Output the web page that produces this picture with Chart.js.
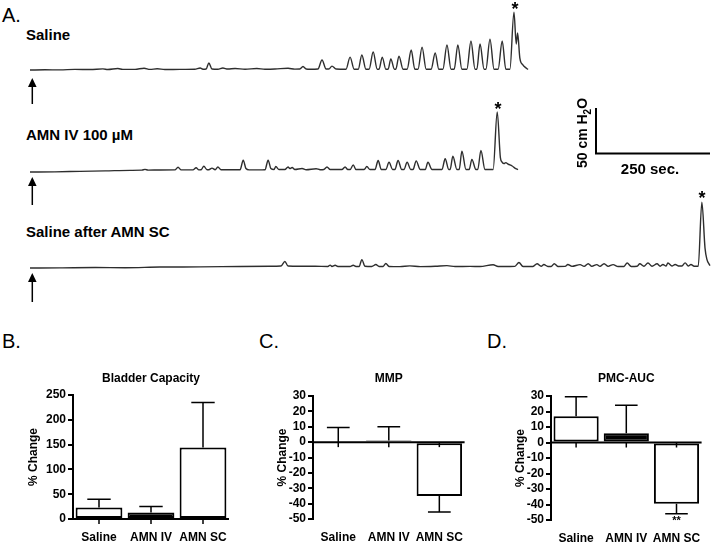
<!DOCTYPE html>
<html>
<head>
<meta charset="utf-8">
<script src="https://cdn.jsdelivr.net/npm/chart.js@4.4.1/dist/chart.umd.min.js"></script>
<style>
  body { margin: 0; background: #fff; }
  #fig { position: relative; width: 712px; height: 544px; overflow: hidden; font-family: 'Liberation Sans', Arial, sans-serif; color: #000; }
  #fig canvas, #fig svg { position: absolute; }
  .t { position: absolute; line-height: 1; white-space: nowrap; }
  .lbl { font-weight: bold; font-size: 15px; }
  .panel { font-size: 20px; }
  .star { font-weight: bold; font-size: 18px; width: 20px; text-align: center; }
</style>
</head>
<body>
<div id="fig">
  <div class="t panel" style="left:2px;top:5px">A.</div>
  <div class="t lbl" style="left:26px;top:27px">Saline</div>
  <div class="t lbl" style="left:26px;top:127px">AMN IV 100 µM</div>
  <div class="t lbl" style="left:26px;top:224px">Saline after AMN SC</div>

  <canvas id="traceSaline" width="712" height="72" style="left:0;top:3px"></canvas>
  <canvas id="traceIV" width="712" height="72" style="left:0;top:105px"></canvas>
  <canvas id="traceSC" width="712" height="72" style="left:0;top:201px"></canvas>

  <div class="t star" style="left:505px;top:0px">*</div>
  <div class="t star" style="left:488px;top:100px">*</div>
  <div class="t star" style="left:692px;top:189px">*</div>

  <svg width="712" height="320" style="left:0;top:0">
    <g fill="#000" stroke="#000">
      <polygon points="32.3,78 28,87 36.6,87" stroke="none"/>
      <line x1="32.3" y1="86" x2="32.3" y2="104" stroke-width="1.5"/>
      <polygon points="32.3,177 28,186 36.6,186" stroke="none"/>
      <line x1="32.3" y1="185" x2="32.3" y2="205" stroke-width="1.5"/>
      <polygon points="32.3,273 28,282 36.6,282" stroke="none"/>
      <line x1="32.3" y1="281" x2="32.3" y2="302" stroke-width="1.5"/>
      <polyline points="596,108 596,153.5 710,153.5" fill="none" stroke-width="2"/>
    </g>
  </svg>
  <div class="t" style="left:584px;top:133px;font-weight:bold;font-size:14px;transform:translate(-50%,-50%) rotate(-90deg)">50 cm H<sub style="font-size:10px">2</sub>O</div>
  <div class="t lbl" style="left:650px;top:161px;transform:translateX(-50%)">250 sec.</div>

  <div class="t panel" style="left:2px;top:331px">B.</div>
  <div class="t panel" style="left:259px;top:331px">C.</div>
  <div class="t panel" style="left:487px;top:331px">D.</div>

  <canvas id="capacityChart" width="240" height="184" style="left:0;top:360px"></canvas>
  <canvas id="mmpChart" width="240" height="184" style="left:235px;top:360px"></canvas>
  <canvas id="aucChart" width="242" height="184" style="left:470px;top:360px"></canvas>
</div>

<script>
// cystometry traces: time (s) and pressure above baseline (cm H2O)
const traceSalineTime = [0,33,66,99,133,161,172,194,205,232,252,265,281,298,331,364,376,382,389,395,402,415,426,437,453,475,501,519,541,570,585,596,603,610,619,636,645,654,660,667,676,698,707,716,725,733,742,749,758,767,771,778,786,791,797,805,808,815,824,833,842,850,857,866,875,886,895,903,912,921,930,937,945,954,965,974,983,987,994,1003,1007,1016,1025,1034,1043,1051,1060,1069,1074,1077,1082,1089,1096,1100];
const traceSalinePressure = [0,0.3,0.2,0.7,0.6,1.3,0.6,1.7,0.7,0.8,2.0,0.7,1.4,0.6,0.7,0.9,2.2,0.9,1.1,7.8,1.1,0.9,2.2,1.1,1.8,0.9,1.8,0.9,1.1,2.0,1.0,1.1,3.9,1.1,0.9,1.1,11.1,1.1,1.1,4.4,1.1,0.9,14.4,0.9,0.9,16.7,0.9,0.9,20.0,0.9,0.9,14.4,0.9,0.9,12.2,0.9,0.9,15.5,0.9,0.9,22.2,0.9,0.9,25.5,0.9,0.9,18.9,0.9,0.9,27.8,0.9,0.9,27.8,0.9,0.9,32.2,0.9,0.9,28.9,0.9,0.9,34.4,0.9,0.9,32.2,0.9,0.9,64.4,28.9,41.1,13.3,5.6,2.2,0.6];

const traceIVTime = [0,55,110,166,221,247,254,261,287,320,327,334,360,367,373,378,384,391,395,402,409,415,422,446,464,471,477,484,504,519,526,532,539,543,550,563,570,574,579,585,601,610,632,641,649,656,663,689,696,702,707,714,720,738,744,751,762,769,776,786,793,801,806,813,821,826,833,841,846,853,862,873,879,888,910,917,925,928,934,943,948,954,963,970,976,985,989,996,1005,1023,1032,1039,1043,1047,1051,1056,1065,1071,1078];
const traceIVPressure = [0,0.2,0.8,1.3,1.9,2.1,3.0,2.1,2.3,2.4,5.3,2.4,2.4,4.7,2.4,2.6,6.4,2.6,2.6,4.4,2.6,5.6,2.6,2.6,2.6,13.1,3.9,2.4,2.4,2.6,13.1,3.9,2.8,6.1,2.8,2.8,5.6,3.9,5.0,2.8,3.9,2.6,3.7,2.6,2.8,5.6,2.8,2.8,5.6,2.8,2.8,8.0,2.8,2.8,6.1,2.8,2.8,12.8,2.8,2.8,10.9,2.8,2.8,12.8,2.8,2.8,10.9,2.8,2.8,12.4,2.8,2.8,10.9,2.8,2.8,14.7,2.8,2.8,17.5,2.8,2.8,23.1,2.8,2.8,13.9,2.8,2.8,23.9,2.8,2.8,66.8,16.1,10.9,9.4,10.5,8.9,6.7,4.4,2.8];

const traceSCTime = [0,66,144,210,287,376,464,530,554,563,570,596,630,658,663,667,674,680,707,714,720,727,733,740,755,764,771,780,786,793,817,839,862,895,921,939,972,994,1023,1034,1060,1071,1080,1089,1111,1120,1129,1135,1144,1151,1158,1166,1182,1188,1197,1215,1224,1233,1241,1252,1259,1268,1277,1288,1299,1312,1319,1328,1341,1347,1356,1365,1374,1385,1392,1398,1405,1409,1418,1425,1434,1440,1447,1454,1460,1467,1476,1484,1491,1495,1500,1502];
const traceSCPressure = [0,0.2,0.6,0.3,1.1,1.3,1.8,2.0,2.2,7.2,2.2,2.0,2.0,1.8,3.3,1.8,3.1,1.8,1.7,3.1,1.8,1.8,9.4,2.0,1.8,3.9,1.8,1.8,5.0,1.8,1.6,2.4,1.6,2.0,2.7,1.7,1.9,1.7,3.7,1.7,1.8,1.9,6.1,1.8,1.8,4.8,2.0,3.9,1.8,1.8,4.8,1.8,1.9,3.9,1.9,3.8,1.9,4.8,1.9,3.8,1.9,4.8,1.9,3.8,1.7,1.8,5.6,1.8,2.0,4.7,2.0,5.6,2.0,4.7,2.0,4.0,2.2,5.6,2.2,3.9,2.2,2.2,5.8,2.2,3.9,2.0,2.0,73.3,22.2,10.0,4.4,2.8];

// bar panels (% change, mean and SEM)
const groups = ['Saline', 'AMN IV', 'AMN SC'];
const barFill = ['#ffffff', '#000000', '#ffffff'];
const capacityMean = [23, 13, 144];
const capacitySem = [17, 12, 91];
const mmpMean = [0, 1, -35];
const mmpSem = [9.5, 9, 10.5];
const aucMean = [17, 6, -39.5];
const aucSem = [12.5, 18, 6.5];
const aucMarks = ['', '', '**'];

Chart.defaults.font.family = "'Liberation Sans', Arial, sans-serif";
Chart.defaults.color = '#000';

function drawTrace(id, time, pressure) {
    new Chart(document.getElementById(id), {
        type: 'line',
        data: {
            datasets: [{
                data: time.map((t, i) => ({ x: t, y: pressure[i] })),
                borderColor: '#2e2e2e',
                borderWidth: 1.4,
                pointRadius: 0,
                cubicInterpolationMode: 'monotone',
                clip: false
            }]
        },
        options: {
            responsive: false,
            animation: false,
            events: [],
            layout: { padding: { left: 30, right: 2, top: 0, bottom: 0 } },
            plugins: { legend: { display: false }, tooltip: { enabled: false } },
            scales: {
                x: { type: 'linear', display: false, min: 0, max: 1502 },
                y: { display: false, min: -5.5, max: 74.5 }
            }
        }
    });
}

// zero line, category ticks, one-sided error bars and panel title
function prismExtras(title, sem, marks) {
    return {
        id: 'prismExtras',
        afterDatasetsDraw(chart) {
            const { ctx, chartArea: a, scales: { x, y } } = chart;
            const meta = chart.getDatasetMeta(0);
            const values = chart.data.datasets[0].data;
            const y0 = y.getPixelForValue(0);
            ctx.save();
            ctx.strokeStyle = '#000';
            ctx.fillStyle = '#000';
            ctx.lineWidth = 2;
            ctx.beginPath();
            ctx.moveTo(a.left - 1, y0);
            ctx.lineTo(a.right, y0);
            ctx.stroke();

            ctx.lineWidth = 1.5;
            groups.forEach((g, i) => {
                const px = x.getPixelForTick(i);
                ctx.beginPath();
                ctx.moveTo(px, y0);
                ctx.lineTo(px, y0 + 5);
                ctx.stroke();
            });

            meta.data.forEach((bar, i) => {
                const m = values[i];
                const end = m < 0 ? m - sem[i] : m + sem[i];
                const yb = y.getPixelForValue(m);
                const ye = y.getPixelForValue(end);
                const half = bar.width / 4;
                ctx.beginPath();
                ctx.moveTo(bar.x, yb);
                ctx.lineTo(bar.x, ye);
                ctx.moveTo(bar.x - half, ye);
                ctx.lineTo(bar.x + half, ye);
                ctx.stroke();
                if (marks && marks[i]) {
                    ctx.font = "bold 11px 'Liberation Sans', Arial, sans-serif";
                    ctx.textAlign = 'center';
                    ctx.textBaseline = 'top';
                    ctx.fillText(marks[i], bar.x, ye + 2);
                }
            });

            ctx.font = "bold 12px 'Liberation Sans', Arial, sans-serif";
            ctx.textAlign = 'center';
            ctx.textBaseline = 'alphabetic';
            ctx.fillText(title, (a.left + a.right) / 2, 22);
            ctx.restore();
        }
    };
}

function drawBars(id, means, sem, marks, title, yMin, yMax, step, axisW, axisH, padTop, padRight, titlePad) {
    new Chart(document.getElementById(id), {
        type: 'bar',
        data: {
            labels: groups,
            datasets: [{
                data: means,
                backgroundColor: barFill,
                borderColor: '#000',
                borderWidth: 2,
                borderSkipped: false,
                barPercentage: 0.9,
                categoryPercentage: 1
            }]
        },
        options: {
            responsive: false,
            animation: false,
            events: [],
            layout: { padding: { top: padTop, right: padRight, left: 0, bottom: 0 } },
            plugins: { legend: { display: false }, tooltip: { enabled: false } },
            scales: {
                x: {
                    grid: { display: false, drawTicks: false },
                    border: { display: false },
                    ticks: { font: { size: 12, weight: 'bold' }, padding: 11, maxRotation: 0, autoSkip: false },
                    afterFit(s) { s.height = axisH; }
                },
                y: {
                    min: yMin,
                    max: yMax,
                    ticks: { stepSize: step, autoSkip: false, font: { size: 12, weight: 'bold' }, padding: 2 },
                    grid: { drawOnChartArea: false, drawTicks: true, tickLength: 5, color: '#000', lineWidth: 2 },
                    border: { display: true, color: '#000', width: 2 },
                    title: { display: true, text: '% Change', font: { size: 12, weight: 'bold' }, padding: { top: titlePad, bottom: 0 } },
                    afterFit(s) { s.width = axisW; }
                }
            }
        },
        plugins: [prismExtras(title, sem, marks)]
    });
}

drawTrace('traceSaline', traceSalineTime, traceSalinePressure);
drawTrace('traceIV', traceIVTime, traceIVPressure);
drawTrace('traceSC', traceSCTime, traceSCPressure);

drawBars('capacityChart', capacityMean, capacitySem, null, 'Bladder Capacity', 0, 250, 50, 73, 25, 35, 11, 26);
drawBars('mmpChart', mmpMean, mmpSem, null, 'MMP', -50, 30, 10, 78, 25, 36, 6, 40);
drawBars('aucChart', aucMean, aucSem, aucMarks, 'PMC-AUC', -50, 30, 10, 81, 24, 36, 5, 43);
</script>
</body>
</html>
